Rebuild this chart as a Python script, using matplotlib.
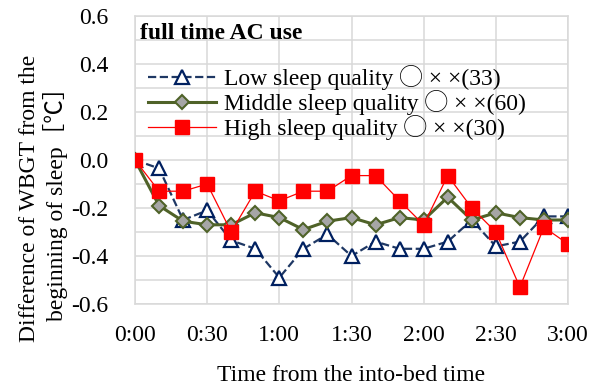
import matplotlib.pyplot as plt
import numpy as np

# -----------------------------
# DATA
# -----------------------------
times = ["0:00", "0:10", "0:20", "0:30", "0:40", "0:50", "1:00", "1:10", "1:20", "1:30",
         "1:40", "1:50", "2:00", "2:10", "2:20", "2:30", "2:40", "2:50", "3:00"]
low = [0.0, -0.035, -0.25, -0.21, -0.335, -0.37, -0.49, -0.37, -0.31, -0.40,
       -0.34, -0.37, -0.37, -0.34, -0.25, -0.36, -0.34, -0.235, -0.235]
middle = [0.0, -0.19, -0.255, -0.27, -0.27, -0.22, -0.24, -0.29, -0.255, -0.24,
          -0.27, -0.24, -0.25, -0.155, -0.25, -0.22, -0.24, -0.25, -0.25]
high = [0.0, -0.13, -0.13, -0.10, -0.30, -0.13, -0.17, -0.13, -0.13, -0.065,
        -0.065, -0.17, -0.27, -0.065, -0.20, -0.30, -0.53, -0.28, -0.35]
labels = ["Low sleep quality ◯ × ×(33)", "Middle sleep quality ◯ × ×(60)",
          "High sleep quality ◯ × ×(30)"]
xtick_labels = ["0:00", "0:30", "1:00", "1:30", "2:00", "2:30", "3:00"]

FONT = ["Liberation Serif", "Noto Sans CJK JP", "DejaVu Sans"]
plt.rcParams["font.family"] = FONT
FS = 17


def to_min(t):
    h, m = t.split(":")
    return int(h) * 60 + int(m)


x = np.array([to_min(t) for t in times])

fig = plt.figure(figsize=(6.01, 3.87), dpi=100)
ax = fig.add_axes([135 / 601, 1 - 304 / 387, (568 - 135) / 601, (304 - 16) / 387])

ax.plot(x, low, linestyle="--", color="#1f3864", lw=1.6, marker="^", ms=9.5,
        mfc="white", mec="#002060", mew=1.6, label=labels[0], zorder=3)
ax.plot(x, middle, linestyle="-", color="#4f6228", lw=2.2, marker="D", ms=7.5,
        mfc="#a6a6a6", mec="#4f6228", mew=1.5, label=labels[1], zorder=3)
ax.plot(x, high, linestyle="-", color="#ff0000", lw=0.9, marker="s", ms=9.5,
        mfc="#ff0000", mec="#ff0000", label=labels[2], zorder=4)

ax.set_xlim(0, 180)
ax.set_ylim(-0.6, 0.6)
ax.set_xticks([to_min(t) for t in xtick_labels])
ax.set_xticklabels(xtick_labels)
ax.set_yticks(np.arange(-0.6, 0.61, 0.2))
ax.set_yticklabels([f"{v:.1f}" for v in np.arange(-0.6, 0.61, 0.2)])
ax.set_yticks(np.arange(-0.6, 0.61, 0.1), minor=True)
ax.tick_params(which="both", length=0, labelsize=FS)
ax.tick_params(axis="x", pad=15)
ax.tick_params(axis="y", pad=19)
ax.grid(True, which="both", color="#d9d9d9", lw=1.1)
ax.set_axisbelow(True)
for s in ax.spines.values():
    s.set_color("#d9d9d9")
    s.set_linewidth(1.1)

ax.set_xlabel("Time from the into-bed time", fontsize=FS, labelpad=14)
ax.set_ylabel("Difference of WBGT from the\nbeginning of sleep［℃］", fontsize=FS,
              linespacing=1.15)
ax.yaxis.set_label_coords(-0.155, 0.368)

ax.text(0.012, 0.94, "full time AC use", transform=ax.transAxes, fontsize=FS,
        fontweight="bold", va="center", ha="left")
ax.legend(loc="upper left", bbox_to_anchor=(0.03, 0.83), frameon=False, fontsize=FS,
          handlelength=2.9, borderaxespad=0, borderpad=0, labelspacing=0,
          handletextpad=0.34)

fig.savefig("out.png", dpi=100)
